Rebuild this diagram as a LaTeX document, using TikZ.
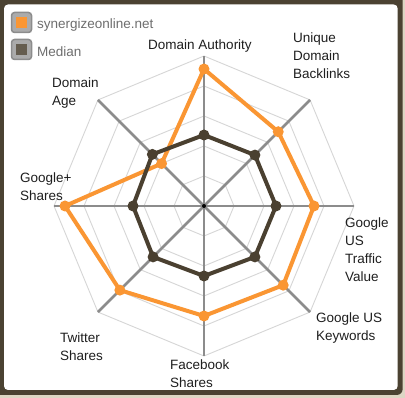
\documentclass[tikz,border=0pt]{standalone}
\usepackage{fontspec}
\setmainfont{Liberation Sans}
\definecolor{bgbeige}{HTML}{DDD6C4}
\definecolor{framebrown}{HTML}{4B4232}
\definecolor{orng}{HTML}{FA9633}
\definecolor{medc}{HTML}{4A4030}
\definecolor{ringc}{HTML}{D6D6D6}
\definecolor{axisc}{HTML}{8C8C8C}
\definecolor{legtext}{HTML}{6E6E6E}
\begin{document}
\begin{tikzpicture}[x=1pt,y=1pt,
  lbl/.style={font=\fontsize{13.5}{18}\selectfont, align=left, inner sep=0pt, text=black!88},
  legtxt/.style={font=\fontsize{13.5}{18}\selectfont, inner sep=0pt, text=legtext, anchor=base west},
  ringline/.style={draw=ringc, line width=0.9pt},
  axisline/.style={draw=axisc, line width=2.6pt},
  orangeline/.style={draw=orng, line width=4pt, line join=round},
  medline/.style={draw=medc, line width=4pt, line join=round},
  odot/.style={circle, fill=orng, inner sep=0pt, minimum size=11pt},
  mdot/.style={circle, fill=medc, inner sep=0pt, minimum size=11pt},
  legbox/.style={rounded corners=3pt, fill=black!33, draw=black!45, line width=1.5pt},
]
\useasboundingbox (0,0) rectangle (405,398);
\fill[bgbeige] (0,0) rectangle (405,398);
\fill[framebrown, rounded corners=6pt] (-10,3) rectangle (402.7,410);
\fill[white, rounded corners=4pt] (4,8) rectangle (397.7,393.5);

% legend
\draw[legbox] (11.5,365.5) rectangle (31.5,385.5);
\fill[orng] (16,370) rectangle (27,381);
\node[legtxt] (leg1) at (37,369) {synergizeonline.net};
\draw[legbox] (11.5,338.5) rectangle (31.5,358.5);
\fill[medc!85!white] (16,343) rectangle (27,354);
\node[legtxt] (leg2) at (37,341) {Median};

\begin{scope}[shift={(204,192)}]
  \coordinate (c) at (0,0);
  % rings
  \foreach \r in {30,60,90,120,150}
    \draw[ringline] (0:\r) -- (45:\r) -- (90:\r) -- (135:\r) -- (180:\r) -- (225:\r) -- (270:\r) -- (315:\r) -- cycle;
  % axes
  \foreach \a/\n in {90/da,45/ub,0/tv,-45/kw,-90/fb,-135/tw,180/gp,135/age}{
    \coordinate (ax-\n) at (\a:150);
    \draw[axisline] (c) -- (ax-\n);
  }
  \fill[black] (c) circle (2pt);
  % orange series
  \foreach \a/\r/\n in {90/137/1,45/105/2,0/110/3,-45/112/4,-90/110/5,-135/119/6,180/139/7,135/60/8}
    \coordinate (o\n) at (\a:\r);
  \draw[orangeline] (o1) -- (o2) -- (o3) -- (o4) -- (o5) -- (o6) -- (o7) -- (o8) -- cycle;
  \foreach \n in {1,...,8} \node[odot] (od\n) at (o\n) {};
  % median series
  \foreach \a/\r/\n in {90/71/1,45/72/2,0/72/3,-45/72/4,-90/70/5,-135/72/6,180/71/7,135/73/8}
    \coordinate (m\n) at (\a:\r);
  \draw[medline] (m1) -- (m2) -- (m3) -- (m4) -- (m5) -- (m6) -- (m7) -- (m8) -- cycle;
  \foreach \n in {1,...,8} \node[mdot] (md\n) at (m\n) {};
\end{scope}

% labels (base anchor = baseline of last line)
\node[lbl, anchor=base] (l-da) at (200,348) {Domain Authority};
\node[lbl, anchor=base west] (l-ub) at (293,319) {Unique\\Domain\\Backlinks};
\node[lbl, anchor=base west] (l-age) at (52,292) {Domain\\Age};
\node[lbl, anchor=base west] (l-gp) at (20,197) {Google+\\Shares};
\node[lbl, anchor=base west] (l-tv) at (345,116) {Google\\US\\Traffic\\Value};
\node[lbl, anchor=base west] (l-kw) at (316,57) {Google US\\Keywords};
\node[lbl, anchor=base west] (l-fb) at (170,10) {Facebook\\Shares};
\node[lbl, anchor=base west] (l-tw) at (60,37) {Twitter\\Shares};
\end{tikzpicture}
\end{document}
